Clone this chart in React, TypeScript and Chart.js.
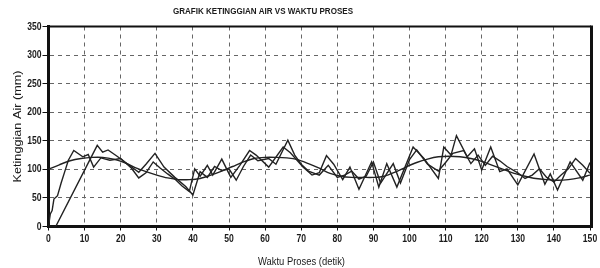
import React, { useEffect, useRef } from "react";
import { Chart, registerables } from "chart.js";

Chart.register(...registerables);

const TITLE = "GRAFIK KETINGGIAN AIR VS WAKTU PROSES";
const X_TITLE = "Waktu Proses (detik)";
const Y_TITLE = "Ketinggian Air (mm)";

// Setpoint (smooth) line
const SP_T = [0, 3, 6, 9, 12, 15, 18, 21, 24, 27, 30, 33, 36, 39, 42, 45, 48, 51, 54, 57, 60, 63, 66, 69, 72, 75, 78, 81, 84, 87, 90, 93, 96, 99, 102, 105, 108, 111, 114, 117, 120, 123, 126, 129, 132, 135, 138, 141, 144, 147, 150];
const SP_V = [100, 108, 115, 119, 121, 121, 118, 112, 103, 96, 90, 85, 82, 82, 84, 90, 97, 105, 113, 119, 121, 121, 120, 117, 110, 102, 93, 88, 86, 86, 86, 88, 95, 104, 112, 118, 122, 123, 122, 119, 114, 107, 100, 93, 88, 84, 82, 81, 82, 85, 90];

// Level response A (fast stepwise rise)
const A_T = [0, 0.5, 1, 1.5, 2.5, 3.5, 4.5, 5.5, 7, 9.5, 11, 12.5, 14.5, 17, 20, 23, 25, 27, 29, 31, 33, 35, 37, 39, 40.5, 42, 44, 45.5, 48, 50.5, 53, 55.7, 57.5, 61, 65, 67, 70.5, 73, 75, 77, 79, 81.5, 83.5, 86, 89.5, 91.5, 93.7, 96.5, 101, 104, 108, 109.5, 111.5, 113, 116, 118, 120, 122.5, 125, 127, 130, 134.5, 137.5, 139, 141, 144.5, 148, 150];
const A_V = [0, 22, 28, 48, 54, 76, 96, 116, 133, 122, 126, 104, 120, 116, 119, 102, 85, 94, 113, 102, 92, 83, 71, 61, 101, 88, 107, 90, 118, 86, 107, 133, 125, 104, 139, 129, 104, 90, 94, 124, 109, 82, 104, 65, 113, 69, 110, 69, 139, 119, 84, 139, 125, 159, 122, 136, 99, 139, 96, 101, 73, 127, 74, 92, 64, 113, 81, 112];

// Level response B (linear ramp then oscillation)
const B_T = [0, 2, 13.5, 15, 16.5, 19, 22, 25, 27, 29.5, 32, 35, 38, 40, 42, 44, 46, 48, 50, 52, 54, 56, 58, 61, 63, 66.3, 68.2, 70, 72, 75, 77.5, 80, 82, 84, 86, 88, 90, 92, 95.5, 97.5, 100, 102, 105, 108, 110, 112, 115, 117, 119, 121, 123, 125, 127, 130, 132, 134, 136, 138, 140, 142, 144, 146, 148, 150];
const B_V = [0, 0, 142, 130, 134, 123, 109, 95, 109, 128, 104, 86, 70, 55, 96, 86, 105, 98, 101, 81, 105, 125, 115, 119, 109, 151, 125, 109, 97, 90, 107, 86, 90, 97, 83, 88, 113, 76, 110, 76, 117, 134, 109, 97, 112, 128, 133, 110, 125, 107, 123, 115, 105, 94, 84, 90, 101, 86, 78, 90, 101, 119, 107, 93];

const X_MIN = 0;
const X_MAX = 150;
const X_STEP = 10;
const Y_MIN = 0;
const Y_MAX = 350;
const Y_STEP = 50;

const FONT = '"Liberation Sans", Arial, sans-serif';

const toPts = (t: number[], v: number[]) => t.map((x, i) => ({ x, y: v[i] }));

function squeezeText(ctx: any, text: string, x: number, y: number, sx: number) {
  ctx.save();
  ctx.translate(x, y);
  ctx.scale(sx, 1);
  ctx.fillText(text, 0, 0);
  ctx.restore();
}

function fitText(ctx: any, text: string, x: number, y: number, width: number) {
  const w = ctx.measureText(text).width;
  squeezeText(ctx, text, x, y, width / w);
}

const framePlugin = {
  id: "frameAndTitles",
  afterDraw(chart: any) {
    const { ctx, chartArea, scales } = chart;
    const { left, right, top, bottom } = chartArea;
    ctx.save();
    // top and right borders
    ctx.strokeStyle = "#111";
    ctx.lineWidth = 2;
    ctx.beginPath();
    ctx.moveTo(left, top);
    ctx.lineTo(right + 1, top);
    ctx.stroke();
    ctx.lineWidth = 3;
    ctx.beginPath();
    ctx.moveTo(right + 1.5, top - 1);
    ctx.lineTo(right + 1.5, bottom + 1.5);
    ctx.stroke();

    ctx.fillStyle = "#1a1a1a";
    ctx.textBaseline = "middle";

    // tick labels
    ctx.font = "bold 11px " + FONT;
    ctx.textAlign = "right";
    for (let v = Y_MIN; v <= Y_MAX; v += Y_STEP) {
      squeezeText(ctx, String(v), 41.5, scales.y.getPixelForValue(v), 0.78);
    }
    ctx.textAlign = "center";
    for (let v = X_MIN; v <= X_MAX; v += X_STEP) {
      squeezeText(ctx, String(v), scales.x.getPixelForValue(v), 239, 0.78);
    }

    // main title
    ctx.font = "bold 9px " + FONT;
    fitText(ctx, TITLE, 263, 11.5, 180);
    // x title
    ctx.font = "10px " + FONT;
    fitText(ctx, X_TITLE, 301.5, 262.5, 87);
    // y title
    ctx.save();
    ctx.translate(18.5, (top + bottom) / 2);
    ctx.rotate(-Math.PI / 2);
    ctx.font = "10px " + FONT;
    fitText(ctx, Y_TITLE, 0, 0, 112);
    ctx.restore();
    ctx.restore();
  },
};

export default function App() {
  const ref = useRef<HTMLCanvasElement>(null);
  useEffect(() => {
    document.body.style.margin = "0";
    const canvas = ref.current!;
    const lineStyle = {
      borderColor: "#222",
      borderWidth: 1.4,
      pointRadius: 0,
      fill: false,
      tension: 0,
    };
    const chart = new Chart(canvas, {
      type: "line",
      data: {
        datasets: [
          { label: "Setpoint", data: toPts(SP_T, SP_V), ...lineStyle, tension: 0.3 },
          { label: "Level A", data: toPts(A_T, A_V), ...lineStyle },
          { label: "Level B", data: toPts(B_T, B_V), ...lineStyle },
        ],
      },
      options: {
        animation: false,
        responsive: false,
        maintainAspectRatio: false,
        layout: { padding: { top: 26.5, right: 10, left: 0, bottom: 0 } },
        plugins: {
          legend: { display: false },
          title: { display: false },
          tooltip: { enabled: false },
        },
        scales: {
          x: {
            type: "linear",
            min: X_MIN,
            max: X_MAX,
            afterFit(scale: any) {
              scale.height = 41.5;
            },
            ticks: { stepSize: X_STEP, display: false, maxRotation: 0 },
            grid: {
              color: "#666",
              lineWidth: 1,
              drawTicks: true,
              tickLength: 4,
              tickColor: "#111",
              tickBorderDash: [],
            },
            border: { display: true, color: "#111", width: 3, dash: [4, 4] },
          },
          y: {
            type: "linear",
            min: Y_MIN,
            max: Y_MAX,
            afterFit(scale: any) {
              scale.width = 48.5;
            },
            ticks: { stepSize: Y_STEP, display: false },
            grid: {
              color: "#666",
              lineWidth: 1,
              drawTicks: true,
              tickLength: 6,
              tickColor: "#111",
              tickBorderDash: [],
            },
            border: { display: true, color: "#111", width: 3, dash: [4, 4] },
          },
        },
      },
      plugins: [framePlugin],
    } as any);
    return () => chart.destroy();
  }, []);
  return <canvas ref={ref} width={600} height={268} style={{ display: "block" }} />;
}
